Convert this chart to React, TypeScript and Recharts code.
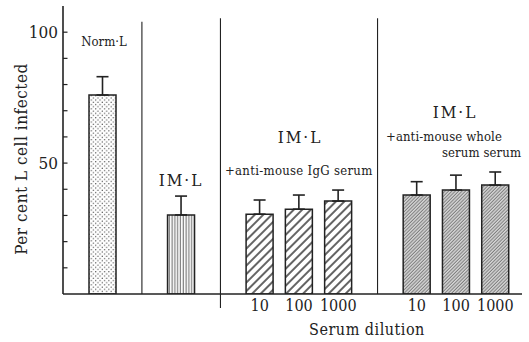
import React from 'react';
import { BarChart, Bar, XAxis, YAxis, Cell, ErrorBar, ReferenceLine } from 'recharts';

const categories = ['Norm·L', 'gap1', 'IM·L', 'gap2', 'IgG 10', 'IgG 100', 'IgG 1000', 'gap3', 'Whole 10', 'Whole 100', 'Whole 1000'];
const infected = [76, null, 30.2, null, 30.5, 32.4, 35.5, null, 37.8, 39.7, 41.6];
const sem = [7, null, 7.2, null, 5.4, 5.4, 4.2, null, 5.1, 5.7, 5.0];
const groups = ['norm', null, 'im', null, 'igg', 'igg', 'igg', null, 'whole', 'whole', 'whole'];
const dilutionLabels = ['', '', '', '', '10', '100', '1000', '', '10', '100', '1000'];
const yTicks = [10, 20, 30, 40, 50, 60, 70, 80, 90, 100];
const yLabeled = [50, 100];
const dividers = [
  { at: 'gap1', from: 0, to: 104 },
  { at: 'gap2', from: -5.3, to: 105.3 },
  { at: 'gap3', from: 0, to: 105.3 },
];

const data = categories.map((c, i) => ({
  name: c,
  value: infected[i],
  err: sem[i] == null ? undefined : [0, sem[i]],
  group: groups[i],
}));

const INK = '#222';
const FONT = "'DejaVu Serif Condensed', 'DejaVu Serif', serif";
const fs = (size: number, extra: any = {}) => ({ fontFamily: FONT, fontSize: size, ...extra });

const YTick = (props: any) => {
  const { x, y, payload } = props;
  const v = payload.value;
  return (
    <g>
      <line x1={x} x2={x + 4.5} y1={y} y2={y} stroke={INK} strokeWidth={1.2} />
      {yLabeled.includes(v) && (
        <text x={x - 5} y={y + 6} textAnchor="end" style={fs(17)} fill={INK}>
          {String(v)}
        </text>
      )}
    </g>
  );
};

const XTick = (props: any) => {
  const { x, y, index } = props;
  const label = dilutionLabels[index];
  if (!label) return <g />;
  return (
    <text x={x} y={y + 17} textAnchor="middle" style={fs(16)} fill={INK}>
      {label}
    </text>
  );
};

export default function App() {
  return (
    <div style={{ position: 'absolute', left: 0, top: 0, width: 529, height: 342, background: '#fff' }}>
      <BarChart width={529} height={342} data={data} margin={{ top: 6, right: 7, bottom: 0, left: 0 }}>
        <defs>
          <pattern id="pat-norm" width="4.4" height="4.4" patternUnits="userSpaceOnUse">
            <rect width="4.4" height="4.4" fill="#fff" />
            <circle cx="1.1" cy="1.1" r="0.65" fill="#444" />
            <circle cx="3.3" cy="3.3" r="0.65" fill="#444" />
          </pattern>
          <pattern id="pat-im" width="2.8" height="4" patternUnits="userSpaceOnUse">
            <rect width="2.8" height="4" fill="#fff" />
            <line x1="1.2" y1="0" x2="1.2" y2="4" stroke="#333" strokeWidth="0.8" />
          </pattern>
          <pattern id="pat-igg" width="6" height="6" patternUnits="userSpaceOnUse" patternTransform="rotate(45)">
            <rect width="6" height="6" fill="#fff" />
            <line x1="2" y1="0" x2="2" y2="6" stroke="#222" strokeWidth="1.4" />
          </pattern>
          <pattern id="pat-whole" width="2.4" height="4" patternUnits="userSpaceOnUse" patternTransform="rotate(45)">
            <rect width="2.4" height="4" fill="#d8d8d8" />
            <line x1="1" y1="0" x2="1" y2="4" stroke="#555" strokeWidth="0.8" />
          </pattern>
        </defs>
        <XAxis
          dataKey="name"
          type="category"
          interval={0}
          height={48}
          padding={{ left: 20, right: 7 }}
          axisLine={{ stroke: INK, strokeWidth: 1.6 }}
          tickLine={false}
          tickSize={0}
          tickMargin={0}
          tick={<XTick />}
        />
        <YAxis
          type="number"
          domain={[0, 110]}
          ticks={yTicks}
          width={63}
          axisLine={{ stroke: INK, strokeWidth: 1.6 }}
          tickLine={false}
          tickSize={0}
          tickMargin={0}
          tick={<YTick />}
          allowDataOverflow
        />
        {dividers.map((d) => (
          <ReferenceLine
            key={d.at}
            segment={[{ x: d.at, y: d.from }, { x: d.at, y: d.to }]}
            stroke={INK}
            strokeWidth={1.1}
            ifOverflow="visible"
          />
        ))}
        <Bar dataKey="value" barSize={27} stroke={INK} strokeWidth={1.5} isAnimationActive={false}>
          {data.map((d, i) => (
            <Cell key={i} fill={d.group ? `url(#pat-${d.group})` : 'none'} />
          ))}
          <ErrorBar dataKey="err" width={6} stroke={INK} strokeWidth={1.6} direction="y" />
        </Bar>
      </BarChart>
      <svg
        width={529}
        height={342}
        style={{ position: 'absolute', left: 0, top: 0, pointerEvents: 'none' }}
        fill={INK}
      >
        <text x={104} y={46} textAnchor="middle" style={fs(13)}>Norm·L</text>
        <text x={181} y={186} textAnchor="middle" style={fs(17, { letterSpacing: 2 })}>IM·L</text>
        <text x={300} y={143} textAnchor="middle" style={fs(17, { letterSpacing: 2 })}>IM·L</text>
        <text x={225} y={175} style={fs(13, { letterSpacing: 0.3 })}>+anti-mouse IgG serum</text>
        <text x={455} y={118} textAnchor="middle" style={fs(17, { letterSpacing: 2 })}>IM·L</text>
        <text x={386} y={141} style={fs(13, { letterSpacing: 0.1 })}>+anti-mouse whole</text>
        <text x={442} y={157} style={fs(13, { letterSpacing: 0.1 })}>serum serum</text>
        <text x={367} y={335} textAnchor="middle" style={fs(16, { letterSpacing: 0.5 })}>Serum dilution</text>
        <text
          x={21}
          y={159}
          textAnchor="middle"
          dominantBaseline="central"
          transform="rotate(-90 21 159)"
          style={fs(17, { letterSpacing: 0.5 })}
        >
          Per cent L cell infected
        </text>
      </svg>
    </div>
  );
}
